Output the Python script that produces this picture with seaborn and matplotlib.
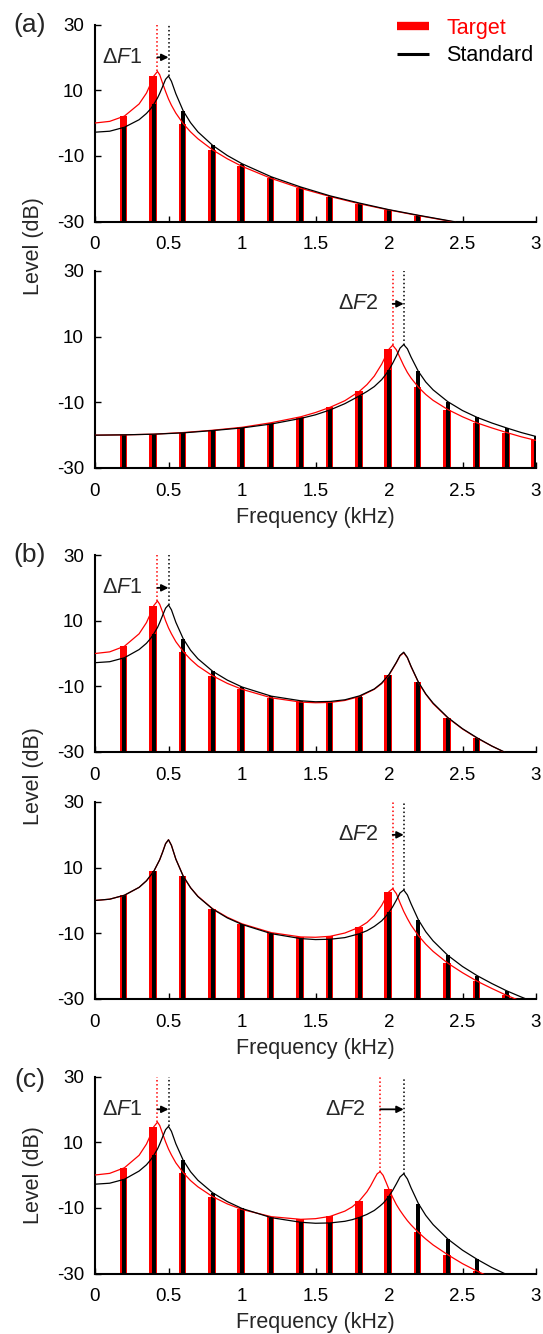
import numpy as np
import matplotlib
matplotlib.use('Agg')
import matplotlib.pyplot as plt
import seaborn as sns
from matplotlib.lines import Line2D

# harmonics of the 200 Hz voice (kHz)
harmonics = [0.2, 0.4, 0.6, 0.8, 1.0, 1.2, 1.4, 1.6, 1.8, 2.0, 2.2, 2.4, 2.6, 2.8, 3.0]

x_ticks = [0, 0.5, 1, 1.5, 2, 2.5, 3]
x_tick_labels = ['0', '0.5', '1', '1.5', '2', '2.5', '3']
y_ticks = [-30, -10, 10, 30]
y_tick_labels = ['-30', '-10', '10', '30']

# ---- (a) upper: F1 shift ----
a1_freq = [0, 0.1, 0.2, 0.3, 0.35, 0.38, 0.4, 0.425, 0.44, 0.46, 0.48, 0.5, 0.52, 0.55,
           0.6, 0.65, 0.7, 0.8, 0.9, 1.0, 1.2, 1.4, 1.6, 1.8, 2.0, 2.2, 2.4, 2.45]
a1_target = [0.0, 0.5, 2.1, 5.8, 9.1, 12.1, 14.3, 15.7, 14.7, 12.1, 9.6, 7.3, 5.4, 3.0,
             -0.2, -2.7, -4.8, -8.2, -10.9, -13.2, -16.9, -19.9, -22.4, -24.6, -26.5, -28.2, -29.8, -30.2]
a1_standard = [-2.8, -2.5, -1.3, 1.0, 2.9, 4.4, 5.7, 7.6, 9.0, 11.1, 13.3, 14.3, 12.7, 8.9,
               3.7, 0.1, -2.7, -6.8, -9.9, -12.4, -16.4, -19.5, -22.2, -24.4, -26.4, -28.1, -29.7, -30.1]
a1_target_bars = [2.1, 14.3, -0.2, -8.2, -13.2, -16.9, -19.9, -22.4, -24.6, -26.5, -28.2, -29.8, -30, -30, -30]
a1_standard_bars = [-1.3, 5.7, 3.7, -6.8, -12.4, -16.4, -19.5, -22.2, -24.4, -26.4, -28.1, -29.7, -30, -30, -30]
a1_f_target = [0.425]
a1_f_standard = [0.5]
a1_shift_labels = ['Δ$F$1']

# ---- (a) lower: F2 shift ----
a2_freq = [0, 0.2, 0.4, 0.6, 0.8, 1.0, 1.2, 1.4, 1.5, 1.6, 1.7, 1.8, 1.85, 1.9, 1.95, 1.975,
           2.0, 2.025, 2.05, 2.075, 2.1, 2.125, 2.15, 2.2, 2.25, 2.3, 2.4, 2.5, 2.6, 2.7, 2.8, 2.9, 3.0]
a2_target = [-20.0, -19.9, -19.7, -19.2, -18.5, -17.6, -16.2, -14.4, -13.1, -11.5, -9.5, -6.6, -4.6,
             -2.0, 1.6, 3.9, 6.2, 7.4, 6.0, 3.6, 1.2, -0.9, -2.6, -5.4, -7.6, -9.4, -12.2, -14.4,
             -16.3, -17.8, -19.2, -20.5, -21.6]
a2_standard = [-20.0, -19.9, -19.7, -19.3, -18.6, -17.8, -16.6, -14.9, -13.8, -12.3, -10.4, -8.0, -6.7,
               -5.2, -3.1, -1.7, -0.1, 1.9, 4.1, 6.5, 7.6, 6.3, 3.8, -0.6, -3.8, -6.2, -9.8, -12.5,
               -14.6, -16.3, -17.8, -19.2, -20.4]
a2_target_bars = [-19.9, -19.7, -19.2, -18.5, -17.6, -16.2, -14.4, -11.5, -6.6, 6.2, -5.4, -12.2, -16.3, -19.2, -21.6]
a2_standard_bars = [-19.9, -19.7, -19.3, -18.6, -17.8, -16.6, -14.9, -12.3, -8.0, -0.1, -0.6, -9.8, -14.6, -17.8, -20.4]
a2_f_target = [2.025]
a2_f_standard = [2.1]
a2_shift_labels = ['Δ$\\mathit{F2}$']

# ---- (b) upper: F1 shift, F2 fixed ----
b1_freq = [0, 0.1, 0.2, 0.3, 0.35, 0.38, 0.4, 0.425, 0.44, 0.46, 0.48, 0.5, 0.52, 0.55, 0.6, 0.65,
           0.7, 0.8, 0.9, 1.0, 1.2, 1.4, 1.5, 1.6, 1.7, 1.8, 1.9, 1.95, 2.0, 2.05, 2.075, 2.1, 2.125,
           2.15, 2.2, 2.25, 2.3, 2.4, 2.5, 2.6, 2.7, 2.8]
b1_target = [0.0, 0.5, 2.2, 6.0, 9.4, 12.4, 14.6, 16.0, 15.0, 12.6, 10.0, 7.8, 6.0, 3.6, 0.6, -1.8,
             -3.8, -6.8, -9.1, -10.9, -13.5, -14.8, -15.0, -14.9, -14.3, -13.1, -10.9, -9.2, -6.6, -2.8,
             -0.7, 0.2, -1.3, -4.0, -8.8, -12.4, -15.3, -19.6, -23.0, -25.8, -28.2, -30.4]
b1_standard = [-2.8, -2.5, -1.3, 1.2, 3.1, 4.7, 6.0, 7.9, 9.4, 11.6, 13.8, 14.8, 13.3, 9.5, 4.5, 1.0,
               -1.6, -5.4, -8.1, -10.2, -13.0, -14.4, -14.7, -14.6, -14.1, -12.9, -10.8, -9.0, -6.4, -2.7,
               -0.6, 0.4, -1.2, -3.9, -8.7, -12.3, -15.1, -19.5, -22.9, -25.7, -28.2, -30.3]
b1_target_bars = [2.2, 14.6, 0.6, -6.8, -10.9, -13.5, -14.8, -14.9, -13.1, -6.6, -8.8, -19.6, -25.8, -30, -30]
b1_standard_bars = [-1.3, 6.0, 4.5, -5.4, -10.2, -13.0, -14.4, -14.6, -12.9, -6.4, -8.7, -19.5, -25.7, -30, -30]
b1_f_target = [0.425]
b1_f_standard = [0.5]
b1_shift_labels = ['Δ$F$1']

# ---- (b) lower: F1 fixed, F2 shift ----
b2_freq = [0, 0.1, 0.2, 0.3, 0.35, 0.4, 0.44, 0.46, 0.48, 0.5, 0.52, 0.55, 0.6, 0.65, 0.7, 0.8, 0.9,
           1.0, 1.2, 1.4, 1.5, 1.6, 1.7, 1.8, 1.85, 1.9, 1.95, 1.975, 2.0, 2.025, 2.05, 2.075, 2.1,
           2.125, 2.15, 2.2, 2.25, 2.3, 2.4, 2.5, 2.6, 2.7, 2.8, 2.9, 3.0]
b2_target = [0.0, 0.4, 1.6, 4.0, 6.0, 8.9, 12.4, 14.8, 17.3, 18.5, 16.8, 12.6, 7.5, 3.9, 1.3, -2.5, -5.1,
             -7.1, -9.8, -11.1, -11.2, -10.9, -9.9, -8.1, -6.7, -4.6, -1.5, 0.6, 2.7, 3.6, 2.1, -0.7, -3.3,
             -5.5, -7.5, -10.7, -13.3, -15.5, -19.1, -22.0, -24.6, -26.8, -28.9, -30.7, -32.4]
b2_standard = [0.0, 0.4, 1.6, 4.0, 6.0, 8.9, 12.4, 14.7, 17.3, 18.5, 16.8, 12.6, 7.4, 3.9, 1.2, -2.6, -5.3,
               -7.3, -10.1, -11.6, -11.9, -11.8, -11.3, -10.1, -9.2, -7.9, -6.2, -5.0, -3.6, -1.9, 0.1, 2.3,
               3.2, 1.7, -1.0, -5.9, -9.5, -12.3, -16.7, -20.1, -22.9, -25.3, -27.5, -29.4, -31.2]
b2_target_bars = [1.6, 8.9, 7.5, -2.5, -7.1, -9.8, -11.1, -10.9, -8.1, 2.7, -10.7, -19.1, -24.6, -28.9, -30]
b2_standard_bars = [1.6, 8.9, 7.4, -2.6, -7.3, -10.1, -11.6, -11.8, -10.1, -3.6, -5.9, -16.7, -22.9, -27.5, -30]
b2_f_target = [2.025]
b2_f_standard = [2.1]
b2_shift_labels = ['Δ$\\mathit{F2}$']

# ---- (c): both F1 and F2 shift ----
c_freq = [0, 0.1, 0.2, 0.3, 0.35, 0.38, 0.4, 0.425, 0.44, 0.46, 0.48, 0.5, 0.52, 0.55, 0.6, 0.65, 0.7,
          0.8, 0.9, 1.0, 1.2, 1.4, 1.5, 1.6, 1.7, 1.75, 1.8, 1.85, 1.875, 1.9, 1.92, 1.94, 1.96, 1.98,
          2.0, 2.025, 2.05, 2.075, 2.1, 2.125, 2.15, 2.2, 2.25, 2.3, 2.4, 2.5, 2.6, 2.7, 2.8]
c_target = [0.0, 0.5, 2.2, 6.0, 9.4, 12.4, 14.7, 16.1, 15.1, 12.6, 10.1, 7.9, 6.1, 3.7, 0.7, -1.7, -3.6,
            -6.6, -8.8, -10.5, -12.7, -13.5, -13.3, -12.6, -11.0, -9.7, -7.8, -5.1, -3.3, -1.2, 0.4, 1.0,
            -0.1, -2.2, -4.4, -6.8, -9.0, -10.8, -12.4, -13.9, -15.2, -17.5, -19.5, -21.3, -24.3, -27.0,
            -29.3, -31.4, -33.3]
c_standard = [-2.8, -2.5, -1.3, 1.2, 3.1, 4.7, 6.0, 7.9, 9.4, 11.6, 13.8, 14.8, 13.3, 9.5, 4.5, 1.0, -1.6,
              -5.4, -8.1, -10.2, -13.0, -14.4, -14.7, -14.6, -14.1, -13.6, -12.9, -12.0, -11.4, -10.8, -10.1,
              -9.4, -8.6, -7.6, -6.4, -4.7, -2.7, -0.6, 0.4, -1.2, -3.9, -8.7, -12.3, -15.1, -19.5, -22.9,
              -25.7, -28.2, -30.3]
c_target_bars = [2.2, 14.7, 0.7, -6.6, -10.5, -12.7, -13.5, -12.6, -7.8, -4.4, -17.5, -24.3, -29.3, -30, -30]
c_standard_bars = [-1.3, 6.0, 4.5, -5.4, -10.2, -13.0, -14.4, -14.6, -12.9, -6.4, -8.7, -19.5, -25.7, -30, -30]
c_f_target = [0.425, 1.94]
c_f_standard = [0.5, 2.1]
c_shift_labels = ['Δ$F$1', 'Δ$\\mathit{F2}$']

Y_MIN, Y_MAX = -30, 30
ARROW_LEVEL = 20

sns.set_theme(style='ticks')
plt.rcParams['font.family'] = ['Liberation Sans', 'DejaVu Sans']
plt.rcParams['mathtext.fontset'] = 'custom'
plt.rcParams['mathtext.rm'] = 'Liberation Sans'
plt.rcParams['mathtext.it'] = 'Liberation Sans:italic'
plt.rcParams['axes.unicode_minus'] = False


def draw_panel(ax, freq, target, standard, target_bars, standard_bars,
               f_target, f_standard, shift_labels, xlabel=False):

    '''
    ONE SPECTRUM PANEL
    '''
    tb = np.array(target_bars, dtype=float)
    sb = np.array(standard_bars, dtype=float)
    h = np.array(harmonics)
    ax.bar(h - 0.005, tb - Y_MIN, bottom=Y_MIN, width=0.052, color='#ff0000', lw=0, zorder=2)
    ax.bar(h, sb - Y_MIN, bottom=Y_MIN, width=0.028, color='black', lw=0, zorder=3)

    sns.lineplot(x=freq, y=target, color='#ff0000', lw=0.9, ax=ax,
                 estimator=None, sort=False, zorder=4)
    sns.lineplot(x=freq, y=standard, color='black', lw=0.9, ax=ax,
                 estimator=None, sort=False, zorder=4)

    # formant markers and shift arrows
    for ft, fs, lab in zip(f_target, f_standard, shift_labels):
        pt = target[freq.index(ft)]
        ps = standard[freq.index(fs)]
        ax.plot([ft, ft], [pt, Y_MAX], ls=':', color='#ff0000', lw=1.1, zorder=5)
        ax.plot([fs, fs], [ps, Y_MAX], ls=':', color='black', lw=1.1, zorder=5)
        ax.annotate('', xy=(fs, ARROW_LEVEL), xytext=(ft, ARROW_LEVEL),
                    arrowprops=dict(arrowstyle='-|>', color='black', lw=1.3,
                                    mutation_scale=10, shrinkA=0, shrinkB=0), zorder=6)
        ax.text(ft - 0.1, ARROW_LEVEL, lab, ha='right', va='center', fontsize=15.5)

    ax.set_xlim(0, 3)
    ax.set_ylim(Y_MIN, Y_MAX)
    ax.set_xticks(x_ticks)
    ax.set_xticklabels(x_tick_labels)
    ax.set_yticks(y_ticks)
    ax.set_yticklabels(y_tick_labels)
    ax.tick_params(direction='in', length=4, width=1, labelsize=13.5, colors='black')
    ax.tick_params(axis='x', pad=10.5)
    ax.tick_params(axis='y', pad=8)
    for s in ['left', 'bottom']:
        ax.spines[s].set_linewidth(1.5)
        ax.spines[s].set_color('black')
    sns.despine(ax=ax)
    ax.set_xlabel('Frequency (kHz)' if xlabel else '', fontsize=15.5, labelpad=5)
    ax.set_ylabel('')


W, H = 543, 1334
fig = plt.figure(figsize=(W / 100, H / 100), dpi=100)

left = 95 / W
width = (536 - 95) / W
height = 197 / H
bottoms_px = [221.5, 468, 752, 999, 1273.5]
axes = [fig.add_axes([left, 1 - b / H, width, height]) for b in bottoms_px]

draw_panel(axes[0], a1_freq, a1_target, a1_standard, a1_target_bars, a1_standard_bars,
           a1_f_target, a1_f_standard, a1_shift_labels)
draw_panel(axes[1], a2_freq, a2_target, a2_standard, a2_target_bars, a2_standard_bars,
           a2_f_target, a2_f_standard, a2_shift_labels, xlabel=True)
draw_panel(axes[2], b1_freq, b1_target, b1_standard, b1_target_bars, b1_standard_bars,
           b1_f_target, b1_f_standard, b1_shift_labels)
draw_panel(axes[3], b2_freq, b2_target, b2_standard, b2_target_bars, b2_standard_bars,
           b2_f_target, b2_f_standard, b2_shift_labels, xlabel=True)
draw_panel(axes[4], c_freq, c_target, c_standard, c_target_bars, c_standard_bars,
           c_f_target, c_f_standard, c_shift_labels, xlabel=True)

# legend
handles = [Line2D([0], [0], color='#ff0000', lw=6, solid_capstyle='butt'),
           Line2D([0], [0], color='black', lw=2.2, solid_capstyle='butt')]
leg = axes[0].legend(handles, ['Target', 'Standard'], loc='upper right',
                     bbox_to_anchor=(0.995, 1.035), frameon=False, fontsize=15.5,
                     handlelength=1.5, handletextpad=0.8, labelspacing=0.3,
                     borderaxespad=0, borderpad=0)
for txt, c in zip(leg.get_texts(), ['#ff0000', 'black']):
    txt.set_color(c)

# panel letters and shared y labels
for lab, y in [('(a)', 25), ('(b)', 555), ('(c)', 1080)]:
    fig.text(30 / W, 1 - y / H, lab, ha='center', va='center', fontsize=19)
for y in [246, 776, 1175]:
    fig.text(33 / W, 1 - y / H, 'Level (dB)', ha='center', va='center',
             rotation=90, fontsize=15.5)

fig.savefig('out.png', dpi=100)
